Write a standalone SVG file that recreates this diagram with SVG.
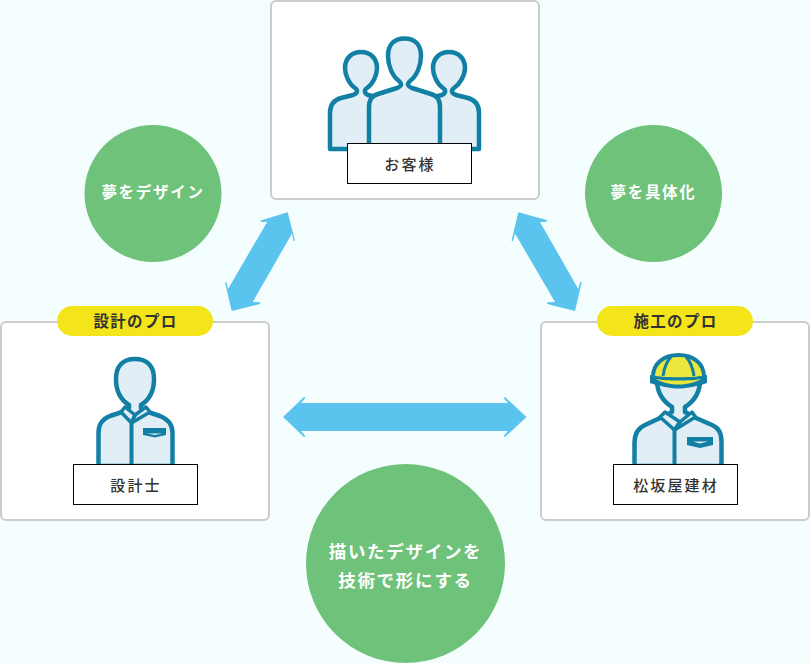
<svg xmlns="http://www.w3.org/2000/svg" width="810" height="663" viewBox="0 0 810 663">
<style>
text{font-family:"Noto Sans CJK JP","Noto Sans",sans-serif;text-anchor:middle}
.card{fill:#fff;stroke:#ccc;stroke-width:2}
.pill{fill:#f3e519}
.circ{fill:#6fc27a}
.lab{fill:#fff;stroke:#000;stroke-width:1}
.lt{font-size:15px;font-weight:500;fill:#333;letter-spacing:2.1px}
.pt{font-size:15.500px;font-weight:700;fill:#333;letter-spacing:1.300px}
.ct{font-size:15.500px;font-weight:700;fill:#fff;letter-spacing:1.700px}
.big{font-size:17.500px;font-weight:700;fill:#fff;letter-spacing:1.700px}
.fig{fill:#e2eef5;stroke:#127fa5;stroke-width:4.500;stroke-linejoin:round;stroke-linecap:butt}
.ln{fill:none;stroke:#127fa5;stroke-width:4}
.arr{fill:#5bc4ee}
</style>
<rect width="810" height="663" fill="#f5feff"/>
<g id="connectors">
<polygon class="arr" points="287.7,212.3 295,240.7 293.6,240.9 292,233.5 252.7,302 260,302.3 260,304 231.7,311 225,282.5 226.500,282.300 228,289 267.300,221.700 260.700,222 260.700,220.500"/>
<polygon class="arr" points="518.3,212.3 546.7,220 546.7,222 540,222 578.3,289 580.2,282 581.7,282.3 575,311 547.3,304 547.3,302.3 555,302 515,233.5 513,241 511.5,240.7"/>
<polygon class="arr" points="283,417 304,397 305.5,398 301,403 508,403 503.5,398 505,397 526.5,417 505,437 503.5,436 508,431 301,431 305.5,436 304,437"/>
</g>
<g id="customer">
<rect class="card" x="271" y="1" width="268" height="198" rx="5"/>
<path class="fig" d="M330,149V113C330,104 334,100 341,98L353,95C358,93 358,90 355,88C349,84 345,75 345,68C345,58 352,52 361,52C370,52 377,58 377,68C377,75 373,84 367,88C364,90 364,93 368,95L381,98C386,100 388,104 388,112V149Z"/>
<path class="fig" d="M479,149V113C479,104 475,100 468,98L456,95C451,93 451,90 454,88C460,84 465,75 465,68C465,58 458,52 449,52C440,52 433,58 433,68C433,75 437,84 443,88C446,90 446,93 442,95L429,98C424,100 420,104 420,112V149Z"/>
<path class="fig" d="M369,152V108C369,99 372,96 378,94L397,88C402,86 402,84 399,81C392,76 388,65 388,56C388,45 394,38.500 404.500,38.500C415,38.500 421,45 421,56C421,65 417,76 410,81C407,84 407,86 412,88L431,94C437,96 440,99 440,108V152Z"/>
<rect class="lab" x="347.500" y="143.500" width="124" height="40"/>
<text class="lt" x="410" y="169.500">お客様</text>
</g>
<g id="designer">
<rect class="card" x="1" y="322" width="268" height="198" rx="5"/>
<rect class="pill" x="57" y="306" width="156" height="30" rx="15"/>
<text class="pt" x="135.500" y="326.500">設計のプロ</text>
<path class="fig" d="M98.500,466V433C98.500,424 102,419 110,416L122,412L129,408V405C121,400 116,391 116,379C116,366 123,359 135,359C147,359 154,366 154,379C154,391 149,400 141,405V408L148,412L160,416C168,419 172.500,424 172.500,433V466Z"/>
<path d="M125,407L135,415L146,407L150,412L131.500,423L121,412Z" fill="#e2eef5" stroke="#127fa5" stroke-width="3.500" stroke-linejoin="round"/>
<path class="ln" d="M135,415L131.500,423V464"/>
<path fill="#127fa5" d="M143,428H166V435L155,437.500L143,435Z"/>
<path fill="#e2eef5" d="M147,433.500H162L155,435Z"/>
<rect class="lab" x="73.500" y="464.500" width="124" height="40"/>
<text class="lt" x="136" y="490.500">設計士</text>
</g>
<g id="builder">
<rect class="card" x="541" y="322" width="268" height="198" rx="5"/>
<rect class="pill" x="597" y="306" width="156" height="30" rx="15"/>
<text class="pt" x="675.500" y="326.500">施工のプロ</text>
<path class="fig" d="M634.500,466V443C634.500,433 638,428 645,425L660,418L672,412V407C664,402 657,393 657,380H700C700,393 693,402 685,407V412L696,418L712,425C719,428 721.500,433 721.500,443V466Z"/>
<path d="M665,412L680,422L692,412L695.500,417L674.500,430L660,417Z" fill="#e2eef5" stroke="#127fa5" stroke-width="3.500" stroke-linejoin="round"/>
<path class="ln" d="M680,422L674.500,430V464"/>
<path fill="#127fa5" d="M687,437H713V445L700,448L687,445Z"/>
<path fill="#e2eef5" d="M693,441.500H708L700,443.500Z"/>
<path d="M653,377C653,363 664,355 678.500,355C693,355 704,363 704,377V380H653Z" fill="#ebe83d" stroke="#127fa5" stroke-width="4"/>
<path d="M671,357C666,362 664,369 663,376M686,357C691,362 693,369 694,376" fill="none" stroke="#127fa5" stroke-width="3"/>
<path d="M650,375C660,378 697,378 707,375V383C695,387 685,388.500 678.500,388.500C672,388.500 662,387 650,383Z" fill="#127fa5"/>
<path d="M656,379C666,381 691,381 701,379C694,383 686,384.500 678.500,384.500C671,384.500 663,383 656,379Z" fill="#ebe83d"/>
<rect class="lab" x="613.500" y="464.500" width="124" height="40"/>
<text class="lt" x="676" y="490.500">松坂屋建材</text>
</g>
<g id="c1"><circle class="circ" cx="153" cy="193.500" r="68.500"/><text class="ct" x="153" y="197.500">夢をデザイン</text></g>
<g id="c2"><circle class="circ" cx="653.500" cy="193.500" r="68.500"/><text class="ct" x="653.500" y="197.500">夢を具体化</text></g>
<g id="c3"><circle class="circ" cx="405.500" cy="563.500" r="99.500"/><text class="big" x="405.500" y="557.500">描いたデザインを</text><text class="big" x="405.500" y="586.500">技術で形にする</text></g>
</svg>
